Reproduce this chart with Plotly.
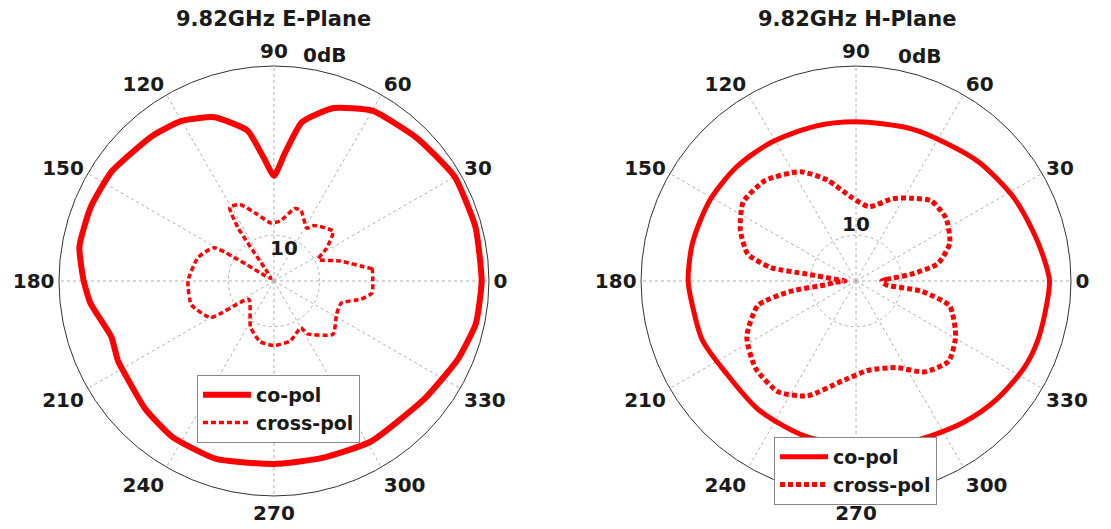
import plotly.graph_objects as go

# radial units as drawn: outer ring = 0 dB (47), inner ring labelled "10" at 10
R_MAX = 47
angle_ticks = [0, 30, 60, 90, 120, 150, 180, 210, 240, 270, 300, 330]
angle_labels = [str(a) for a in angle_ticks]

# 9.82 GHz E-plane
e_co_theta = [0, 15, 30, 45, 60, 71, 80, 85, 90, 95, 100, 110, 120, 130, 146, 158,
              170, 180, 187, 199, 207, 214, 225, 237, 252, 270, 285, 301, 322, 337, 348, 360]
e_co_r = [45.4, 45.6, 45.6, 44.2, 43.0, 40.0, 35.3, 28.2, 23.0, 27.3, 33.4, 38.1, 40.4, 41.4, 42.8, 43.2,
          43.2, 41.6, 40.4, 37.6, 38.3, 38.5, 39.7, 40.7, 40.9, 40.0, 40.1, 41.0, 41.8, 43.7, 45.1, 45.4]

e_x_theta = [0, 7, 8, 17, 26, 32, 40, 54, 58, 69, 74, 84, 93, 104, 114, 121, 124, 127, 140, 149,
             151, 163, 180, 196, 210, 216, 243, 257, 270, 285, 300, 302, 318, 332, 342, 348, 353, 360]
e_x_r = [21.6, 21.6, 20.7, 15.0, 10.8, 13.6, 16.9, 15.0, 13.6, 16.5, 16.5, 13.2, 12.7, 15.0, 18.3, 18.8, 14.1, 2.4, 0.9, 2.4,
         15.0, 17.4, 18.8, 18.8, 16.0, 6.8, 11.3, 13.6, 14.1, 13.6, 11.8, 13.6, 17.4, 15.5, 15.5, 19.3, 21.6, 21.6]

# 9.82 GHz H-plane
h_co_theta = [0, 4, 14, 28, 44, 57, 70, 90, 105, 121, 136, 151, 167, 180, 188, 201,
              216, 233, 252, 270, 289, 307, 320, 333, 342, 353, 360]
h_co_r = [42.3, 41.8, 40.4, 39.0, 37.4, 36.0, 35.4, 34.8, 35.0, 35.5, 36.1, 36.5, 36.7, 36.7, 36.2, 36.0,
          34.8, 35.3, 35.7, 35.7, 37.1, 38.8, 40.2, 41.4, 41.8, 42.0, 42.3]

h_x_theta = [0, 3, 7, 12, 22, 35, 47, 57, 66, 80, 93, 106, 117, 132, 145, 156, 166, 171, 172, 175,
             180, 184, 187, 189, 194, 207, 221, 235, 247, 262, 278, 295, 307, 319, 331, 345, 351, 353, 360]
h_x_r = [5.6, 6.6, 12.2, 18.3, 22.1, 24.0, 24.0, 21.6, 19.7, 16.5, 18.3, 23.0, 26.8, 29.6, 30.1, 27.7, 24.4, 18.8, 10.8, 4.7,
         2.4, 4.7, 6.3, 14.6, 22.1, 26.8, 29.1, 29.6, 27.3, 22.1, 19.7, 20.9, 24.9, 26.8, 24.9, 21.2, 14.6, 6.6, 5.6]

RED = "#ff0000"
INK = "#1a1a1a"
FONT = "DejaVu Sans"
W, H = 1111, 529

fig = go.Figure()
fig.add_trace(go.Scatterpolar(r=e_co_r, theta=e_co_theta, mode="lines", name="co-pol",
                              line=dict(color=RED, width=6, shape="spline", smoothing=0.5),
                              subplot="polar", legend="legend"))
fig.add_trace(go.Scatterpolar(r=e_x_r, theta=e_x_theta, mode="lines", name="cross-pol",
                              line=dict(color=RED, width=3.5, dash="5px,3px", shape="spline", smoothing=0.5),
                              subplot="polar", legend="legend"))
fig.add_trace(go.Scatterpolar(r=h_co_r, theta=h_co_theta, mode="lines", name="co-pol",
                              line=dict(color=RED, width=5, shape="spline", smoothing=0.8),
                              subplot="polar2", legend="legend2"))
fig.add_trace(go.Scatterpolar(r=h_x_r, theta=h_x_theta, mode="lines", name="cross-pol",
                              line=dict(color=RED, width=5, dash="5px,3px", shape="spline", smoothing=0.6),
                              subplot="polar2", legend="legend2"))


def polar_axes(dx, dy):
    return dict(
        domain=dict(x=dx, y=dy),
        bgcolor="white",
        angularaxis=dict(
            tickmode="array", tickvals=angle_ticks, ticktext=angle_labels,
            direction="counterclockwise", rotation=0,
            showline=True, linecolor="#333", linewidth=1,
            showgrid=True, gridcolor="#b0b0b0", gridwidth=1, griddash="dot",
            ticks="",
            tickfont=dict(family=FONT, size=20, color=INK, weight="bold"),
        ),
        radialaxis=dict(
            range=[0, R_MAX], tickmode="array", tickvals=[10],
            showline=False, showticklabels=False, ticks="",
            showgrid=True, gridcolor="#b0b0b0", gridwidth=1, griddash="dot",
        ),
    )


legend_style = dict(
    font=dict(family=FONT, size=19, color=INK, weight="bold"),
    bgcolor="white", bordercolor="#888", borderwidth=1,
    xanchor="left", yanchor="top", tracegroupgap=0, itemwidth=48,
)

fig.update_layout(
    width=W, height=H,
    margin=dict(l=0, r=0, t=0, b=0, autoexpand=False),
    paper_bgcolor="white",
    polar=polar_axes([0.0459, 0.4329], [0.0775, 0.8904]),
    polar2=polar_axes([0.5698, 0.9568], [0.0775, 0.8904]),
    legend=dict(x=0.1701, y=0.3062, **legend_style),
    legend2=dict(x=0.6895, y=0.1890, **legend_style),
    showlegend=True,
)

labels = [
    ("9.82GHz E-Plane", 265, 11, 21),
    ("9.82GHz H-Plane", 849, 11, 21),
    ("10", 276, 240, 20),
    ("0dB", 316, 47, 20),
    ("10", 848, 216, 20),
    ("0dB", 911, 48, 20),
]
for text, px, py, size in labels:
    fig.add_annotation(text=text, x=px / W, y=1 - py / H, xref="paper", yref="paper",
                       showarrow=False, xanchor="center", yanchor="middle",
                       font=dict(family=FONT, size=size, color=INK, weight="bold"))

fig.write_html("out.html")
